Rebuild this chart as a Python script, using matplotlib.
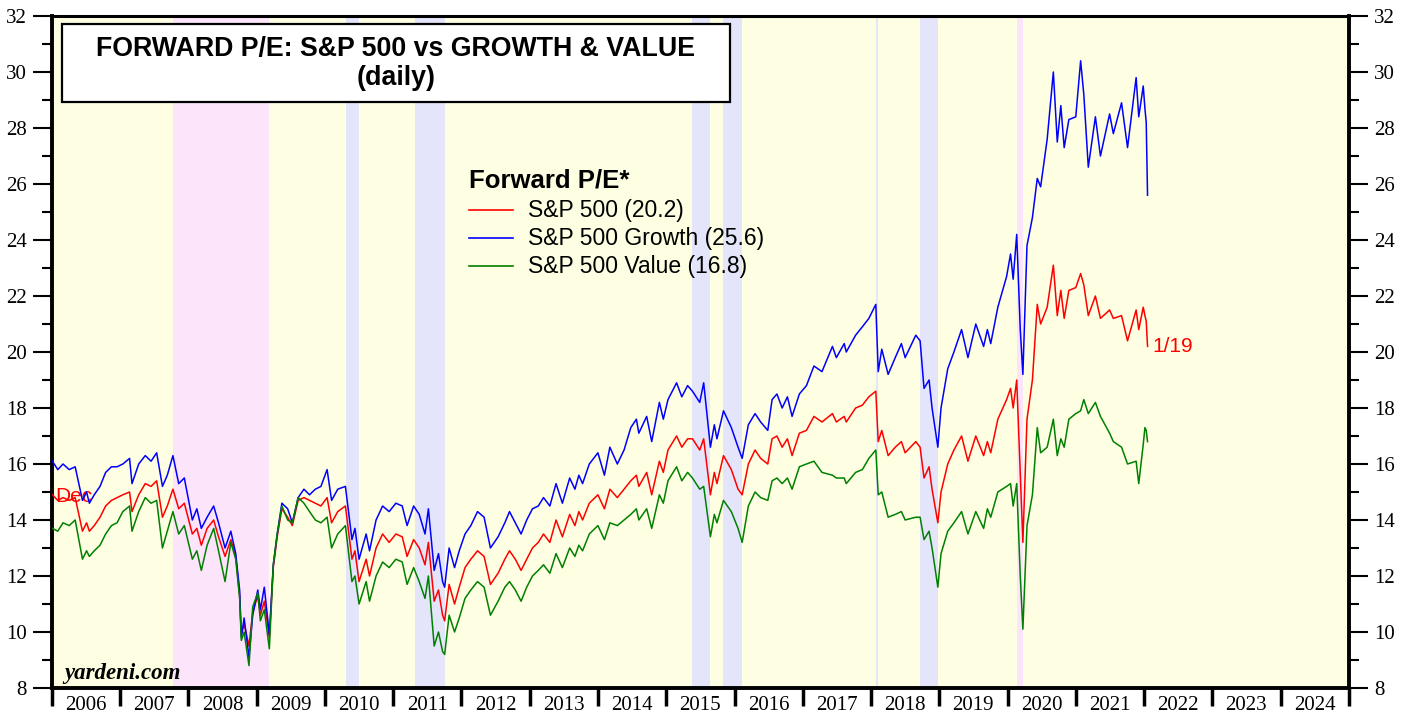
import matplotlib
matplotlib.use("Agg")
import matplotlib.pyplot as plt
from matplotlib.lines import Line2D
from matplotlib.patches import Rectangle
from matplotlib.ticker import MultipleLocator
import pandas as pd

# ---------------- data ----------------
dates = [
 "2006-01-03","2006-02-01","2006-03-01","2006-04-03","2006-05-05","2006-06-13","2006-07-05","2006-07-20",
 "2006-08-15","2006-09-15","2006-10-15","2006-11-15","2006-12-15","2007-01-15","2007-02-20","2007-03-05",
 "2007-04-10","2007-05-15","2007-06-15","2007-07-15","2007-08-15","2007-09-10","2007-10-10","2007-11-10",
 "2007-12-10","2008-01-22","2008-02-15","2008-03-10","2008-04-10","2008-05-15","2008-06-10","2008-07-15",
 "2008-08-15","2008-09-10","2008-10-01","2008-10-10","2008-10-25","2008-11-20","2008-12-10","2009-01-06",
 "2009-01-20","2009-02-10","2009-03-09","2009-03-30","2009-04-20","2009-05-15","2009-06-15","2009-07-10",
 "2009-08-10","2009-09-10","2009-10-10","2009-11-10","2009-12-10","2010-01-12","2010-02-05","2010-03-10",
 "2010-04-20","2010-05-25","2010-06-10","2010-07-02","2010-08-09","2010-08-27","2010-10-01","2010-11-05",
 "2010-12-10","2011-01-15","2011-02-18","2011-03-16","2011-04-20","2011-05-20","2011-06-20","2011-07-08",
 "2011-08-08","2011-08-31","2011-09-22","2011-10-03","2011-10-27","2011-11-25","2011-12-20","2012-01-20",
 "2012-02-20","2012-03-27","2012-05-01","2012-06-04","2012-07-15","2012-08-20","2012-09-14","2012-10-15",
 "2012-11-15","2012-12-15","2013-01-15","2013-02-15","2013-03-15","2013-04-18","2013-05-21","2013-06-24",
 "2013-08-02","2013-08-30","2013-09-20","2013-10-10","2013-11-15","2013-12-31","2014-02-04","2014-03-05",
 "2014-04-14","2014-05-20","2014-06-25","2014-07-25","2014-08-07","2014-09-18","2014-10-15","2014-11-25",
 "2014-12-16","2015-01-10","2015-02-25","2015-03-25","2015-04-25","2015-05-21","2015-06-29","2015-07-20",
 "2015-08-25","2015-09-15","2015-09-29","2015-11-03","2015-12-15","2016-01-20","2016-02-11","2016-03-15",
 "2016-04-20","2016-05-20","2016-06-27","2016-07-20","2016-08-15","2016-09-12","2016-10-10","2016-11-04",
 "2016-12-13","2017-01-20","2017-03-01","2017-04-13","2017-06-08","2017-06-29","2017-08-10","2017-08-21",
 "2017-10-10","2017-11-15","2017-12-20","2018-01-26","2018-02-08","2018-02-27","2018-04-02","2018-05-10",
 "2018-06-12","2018-07-02","2018-08-28","2018-09-20","2018-10-11","2018-11-07","2018-11-23","2018-12-24",
 "2019-01-10","2019-02-15","2019-03-20","2019-04-30","2019-06-03","2019-07-15","2019-08-26","2019-09-15",
 "2019-10-03","2019-11-10","2019-12-27","2020-01-17","2020-01-31","2020-02-19","2020-03-09","2020-03-23",
 "2020-04-14","2020-05-13","2020-06-08","2020-06-26","2020-07-31","2020-09-02","2020-09-23","2020-10-12",
 "2020-10-30","2020-11-24","2020-12-31","2021-01-26","2021-02-12","2021-03-08","2021-04-15","2021-05-12",
 "2021-06-30","2021-07-20","2021-09-02","2021-10-04","2021-11-19","2021-12-03","2021-12-27","2022-01-05",
 "2022-01-12","2022-01-19",
]

growth = [
 16.1,15.8,16.0,15.8,15.9,14.7,15.0,14.6, 14.9,15.2,15.7,15.9,15.9,16.0,16.2,15.3,
 16.0,16.3,16.1,16.4,15.2,15.6,16.3,15.3, 15.5,14.0,14.4,13.7,14.1,14.5,13.9,13.0,
 13.6,12.8,11.5,9.8,10.5,9.1,10.6,11.5, 10.8,11.6,9.9,12.4,13.5,14.6,14.4,13.9,
 14.8,15.1,14.9,15.1,15.2,15.8,14.7,15.1, 15.2,13.3,13.7,12.6,13.5,12.9,14.0,14.5,
 14.3,14.6,14.5,13.8,14.5,14.2,13.5,14.4, 12.2,12.8,11.8,11.6,13.0,12.3,12.9,13.5,
 13.8,14.3,14.1,13.0,13.4,13.9,14.3,13.9, 13.5,14.0,14.4,14.5,14.8,14.5,15.3,14.6,
 15.5,15.1,15.6,15.3,16.0,16.4,15.6,16.6, 16.0,16.5,17.3,17.6,17.1,17.7,16.8,18.2,
 17.6,18.3,18.9,18.4,18.8,18.6,18.2,18.9, 16.6,17.4,16.9,17.9,17.3,16.6,16.2,17.4,
 17.8,17.5,17.2,18.3,18.5,18.0,18.4,17.7, 18.5,18.8,19.5,19.3,20.2,19.8,20.3,20.0,
 20.6,20.9,21.2,21.7,19.3,20.1,19.2,19.8, 20.3,19.8,20.6,20.4,18.7,19.0,18.0,16.6,
 18.0,19.4,20.0,20.8,19.8,21.0,20.2,20.8, 20.3,21.6,22.7,23.5,22.6,24.2,20.8,19.2,
 23.8,24.8,26.2,25.9,27.6,30.0,27.5,28.8, 27.3,28.3,28.4,30.4,29.2,26.6,28.4,27.0,
 28.5,27.8,28.9,27.3,29.8,28.4,29.5,28.7, 28.2,25.6,
]

sp500 = [
 14.9,14.7,14.8,14.7,14.8,13.6,13.9,13.6, 13.8,14.1,14.5,14.7,14.8,14.9,15.0,14.3,
 14.9,15.3,15.2,15.4,14.1,14.5,15.1,14.4, 14.6,13.5,13.7,13.1,13.7,14.0,13.4,12.7,
 13.3,12.7,11.3,9.9,10.3,9.5,10.7,11.3, 10.6,11.1,9.8,12.3,13.4,14.4,14.1,13.8,
 14.7,14.8,14.7,14.6,14.5,14.8,13.9,14.3, 14.5,12.6,12.9,11.8,12.6,12.0,13.0,13.5,
 13.2,13.5,13.4,12.7,13.3,13.0,12.4,13.2, 11.1,11.5,10.6,10.4,11.7,11.0,11.6,12.3,
 12.6,12.9,12.7,11.7,12.1,12.6,12.9,12.6, 12.2,12.6,13.0,13.2,13.5,13.2,14.0,13.4,
 14.2,13.8,14.3,14.0,14.6,14.9,14.4,15.1, 14.8,15.1,15.4,15.6,15.2,15.7,14.9,16.1,
 15.7,16.5,17.0,16.6,16.9,16.9,16.5,16.9, 14.9,15.7,15.3,16.3,15.8,15.1,14.9,16.0,
 16.5,16.2,16.0,16.9,17.0,16.6,16.9,16.3, 17.1,17.2,17.7,17.5,17.8,17.5,17.7,17.5,
 18.0,18.1,18.4,18.6,16.8,17.2,16.3,16.6, 16.8,16.4,16.8,16.6,15.5,15.9,15.1,13.9,
 15.0,16.0,16.5,17.0,16.1,17.0,16.3,16.8, 16.4,17.6,18.3,18.7,18.0,19.0,15.6,13.2,
 17.6,19.0,21.7,21.0,21.6,23.1,21.3,22.2, 21.2,22.2,22.3,22.8,22.4,21.3,22.0,21.2,
 21.5,21.2,21.3,20.4,21.5,20.8,21.6,21.3, 21.1,20.2,
]

value = [
 13.7,13.6,13.9,13.8,14.0,12.6,12.9,12.7, 12.9,13.1,13.5,13.8,13.9,14.3,14.5,13.6,
 14.3,14.8,14.6,14.7,13.0,13.6,14.3,13.5, 13.8,12.6,12.9,12.2,13.1,13.7,12.9,11.8,
 13.2,12.6,11.2,9.7,10.0,8.8,10.9,11.4, 10.4,10.8,9.4,12.4,13.5,14.5,14.0,13.9,
 14.8,14.6,14.3,14.0,13.9,14.1,13.0,13.5, 13.8,11.8,12.0,11.0,11.8,11.1,12.0,12.5,
 12.3,12.6,12.5,11.7,12.3,11.8,11.2,12.0, 9.5,10.0,9.3,9.2,10.6,10.0,10.5,11.2,
 11.5,11.8,11.6,10.6,11.1,11.6,11.8,11.5, 11.1,11.6,12.0,12.2,12.4,12.1,12.8,12.3,
 13.0,12.7,13.1,12.9,13.5,13.8,13.3,13.9, 13.8,14.0,14.2,14.4,14.0,14.4,13.7,14.9,
 14.6,15.4,15.9,15.4,15.7,15.5,15.1,15.2, 13.4,14.2,13.9,14.7,14.3,13.7,13.2,14.5,
 15.0,14.8,14.7,15.4,15.5,15.3,15.5,15.1, 15.9,16.0,16.1,15.7,15.6,15.5,15.5,15.3,
 15.7,15.8,16.2,16.5,14.9,15.0,14.1,14.2, 14.3,14.0,14.1,14.1,13.3,13.6,13.0,11.6,
 12.8,13.6,13.9,14.3,13.5,14.3,13.7,14.4, 14.1,15.0,15.2,15.3,14.5,15.3,12.0,10.1,
 13.8,14.9,17.3,16.4,16.6,17.6,16.3,16.9, 16.6,17.6,17.8,17.9,18.3,17.8,18.2,17.7,
 17.1,16.8,16.6,16.0,16.1,15.3,16.7,17.3, 17.2,16.8,
]

series_labels = ["S&P 500 (20.2)", "S&P 500 Growth (25.6)", "S&P 500 Value (16.8)"]
series_colors = ["#ff0000", "#0000ff", "#008000"]

bear_markets = [("2007-10-09", "2009-03-09"), ("2020-02-19", "2020-03-23")]
corrections = [("2010-04-23", "2010-07-02"), ("2011-04-29", "2011-10-03"),
               ("2015-05-21", "2015-08-25"), ("2015-11-03", "2016-02-11"),
               ("2018-01-26", "2018-02-08"), ("2018-09-20", "2018-12-24")]
years = list(range(2006, 2025))

title_lines = ["FORWARD P/E: S&P 500 vs GROWTH & VALUE", "(daily)"]
legend_title = "Forward P/E*"
last_label = "1/19"
first_label = "Dec"
source = "yardeni.com"

# ---------------- figure ----------------
W, H = 1408, 719
fig = plt.figure(figsize=(W / 100, H / 100), dpi=100)
fig.patch.set_facecolor("white")
L, R, T, B = 52, 1349, 16, 688
ax = fig.add_axes([L / W, 1 - B / H, (R - L) / W, (B - T) / H])
ax.set_facecolor("#fefee2")

d = pd.to_datetime(dates)

for s, e in bear_markets:
    ax.axvspan(pd.Timestamp(s), pd.Timestamp(e), color="#fce4fa", lw=0, zorder=0)
for s, e in corrections:
    ax.axvspan(pd.Timestamp(s), pd.Timestamp(e), color="#e4e4fa", lw=0, zorder=0)

ax.text(pd.Timestamp("2006-01-20"), 14.85, first_label, color="#ff0000", fontsize=15,
        family="Liberation Sans", va="center", ha="left", zorder=1)

for vals, c in [(sp500, series_colors[0]), (growth, series_colors[1]), (value, series_colors[2])]:
    ax.plot(d, vals, color=c, lw=1.1, zorder=3)

ax.text(pd.Timestamp("2022-02-15"), 20.2, last_label, color="#ff0000", fontsize=15,
        family="Liberation Sans", va="center", ha="left", zorder=4)

ax.set_xlim(pd.Timestamp(f"{years[0]}-01-01"), pd.Timestamp(f"{years[-1] + 1}-01-01"))
ax.set_ylim(8, 32)

# x axis: year boundary ticks, labels at mid-year
ax.set_xticks([pd.Timestamp(f"{y}-01-01") for y in years] + [pd.Timestamp(f"{years[-1] + 1}-01-01")])
ax.set_xticklabels([])
ax.set_xticks([pd.Timestamp(f"{y}-07-02") for y in years], minor=True)
ax.set_xticklabels([str(y) for y in years], minor=True)
ax.tick_params(axis="x", which="major", direction="out", length=13, width=2.5, color="black")
ax.tick_params(axis="x", which="minor", length=0, pad=6, labelsize=15)

# y axis
ax.yaxis.set_major_locator(MultipleLocator(2))
ax.yaxis.set_minor_locator(MultipleLocator(1))
ax.tick_params(axis="y", which="major", direction="out", length=14, width=1.5,
               left=True, right=True, labelleft=True, labelright=True, labelsize=15, pad=4)
ax.tick_params(axis="y", which="minor", direction="out", length=7, width=1.5,
               left=True, right=True)
for lab in ax.xaxis.get_ticklabels(which="both") + ax.yaxis.get_ticklabels(which="both"):
    lab.set_family("Liberation Serif")

for sp in ax.spines.values():
    sp.set_linewidth(2.8)
    sp.set_color("black")
ax.spines["top"].set_linewidth(2.2)

# title box
fig.add_artist(Rectangle((62 / W, 1 - 102 / H), 668 / W, 78 / H, transform=fig.transFigure,
                         facecolor="white", edgecolor="black", lw=1.6, zorder=5))
fig.text(396 / W, 1 - 49 / H, title_lines[0], ha="center", va="center", fontsize=19.3,
         fontweight="bold", family="Liberation Sans", zorder=6)
fig.text(396 / W, 1 - 78 / H, title_lines[1], ha="center", va="center", fontsize=19.3,
         fontweight="bold", family="Liberation Sans", zorder=6)

# legend (manual)
fig.text(469 / W, 1 - 180 / H, legend_title, ha="left", va="center", fontsize=18.5,
         fontweight="bold", family="Liberation Sans", zorder=6)
rows = [210, 238, 266]
for lab, c, yy in zip(series_labels, series_colors, rows):
    fig.add_artist(Line2D([469 / W, 513 / W], [1 - yy / H, 1 - yy / H], color=c, lw=1.2,
                          transform=fig.transFigure, zorder=6))
    fig.text(528 / W, 1 - yy / H, lab, ha="left", va="center", fontsize=16.5,
             family="Liberation Sans", zorder=6)

fig.text(64 / W, 1 - 673 / H, source, ha="left", va="center", fontsize=16.5,
         fontweight="bold", style="italic", family="Liberation Serif", zorder=6)

fig.savefig("out.png", dpi=100)
